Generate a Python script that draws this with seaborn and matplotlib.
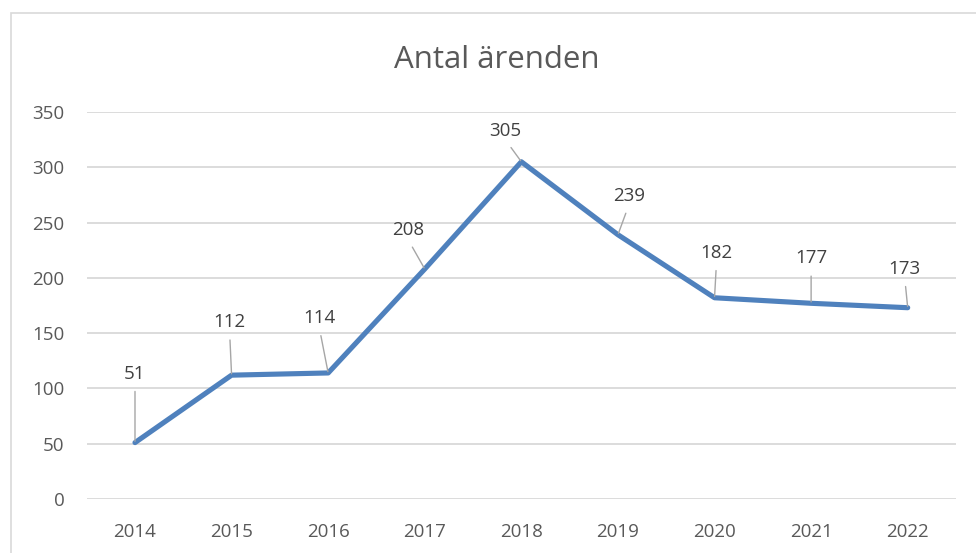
import matplotlib
matplotlib.use("Agg")
import matplotlib.pyplot as plt
from matplotlib.patches import Rectangle
import seaborn as sns
import pandas as pd

years = ["2014", "2015", "2016", "2017", "2018", "2019", "2020", "2021", "2022"]
cases = [51, 112, 114, 208, 305, 239, 182, 177, 173]
title = "Antal ärenden"
y_ticks = [0, 50, 100, 150, 200, 250, 300, 350]

# label offsets in pixels (dx, dy) relative to each point
label_offsets = [(0, 69), (-2, 53), (-9, 55), (-17, 39), (-16, 31),
                 (11, 39), (2, 45), (0, 45), (-3, 39)]

sns.set_theme(style="white")
plt.rcParams['font.family'] = ['Open Sans', 'DejaVu Sans']

df = pd.DataFrame({"year": years, "cases": cases})

fig = plt.figure(figsize=(9.76, 5.53), dpi=100)
ax = fig.add_axes([86.7 / 976, 54 / 553, (956 - 86.7) / 976, (499 - 112) / 553])

sns.lineplot(data=df, x="year", y="cases", ax=ax, color="#4F81BD",
             linewidth=3.7, solid_capstyle="round", solid_joinstyle="round",
             sort=False, zorder=3)

ax.set_xlim(-0.5, len(years) - 0.5)
ax.set_ylim(0, 350)
ax.set_yticks(y_ticks)
ax.set_xlabel("")
ax.set_ylabel("")
for s in ax.spines.values():
    s.set_visible(False)
ax.yaxis.grid(True, color="#d9d9d9", linewidth=1.3)
ax.xaxis.grid(False)
ax.set_axisbelow(True)
ax.tick_params(axis="y", length=0, pad=16, labelsize=13.5, labelcolor="#595959")
ax.tick_params(axis="x", length=0, pad=17, labelsize=13.5, labelcolor="#595959")

px = 72 / 100.0
for i, (v, (dx, dy)) in enumerate(zip(cases, label_offsets)):
    ax.annotate(str(v), xy=(i, v), xytext=(dx * px, dy * px),
                textcoords="offset points", ha="center", va="center",
                fontsize=13.5, color="#404040",
                arrowprops=dict(arrowstyle="-", color="#a6a6a6", lw=1.0,
                                relpos=(0.5, 0.0), shrinkA=4, shrinkB=1))

fig.text(497 / 976, 1 - 60 / 553, title, ha="center", va="center",
         fontsize=22.5, color="#595959")

fig.patches.append(Rectangle((11 / 976, -0.2), 2, 0.2 + 1 - 13 / 553,
                             transform=fig.transFigure, fill=False,
                             edgecolor="#d9d9d9", linewidth=1.2))

fig.savefig("out.png", dpi=100, facecolor="white")
